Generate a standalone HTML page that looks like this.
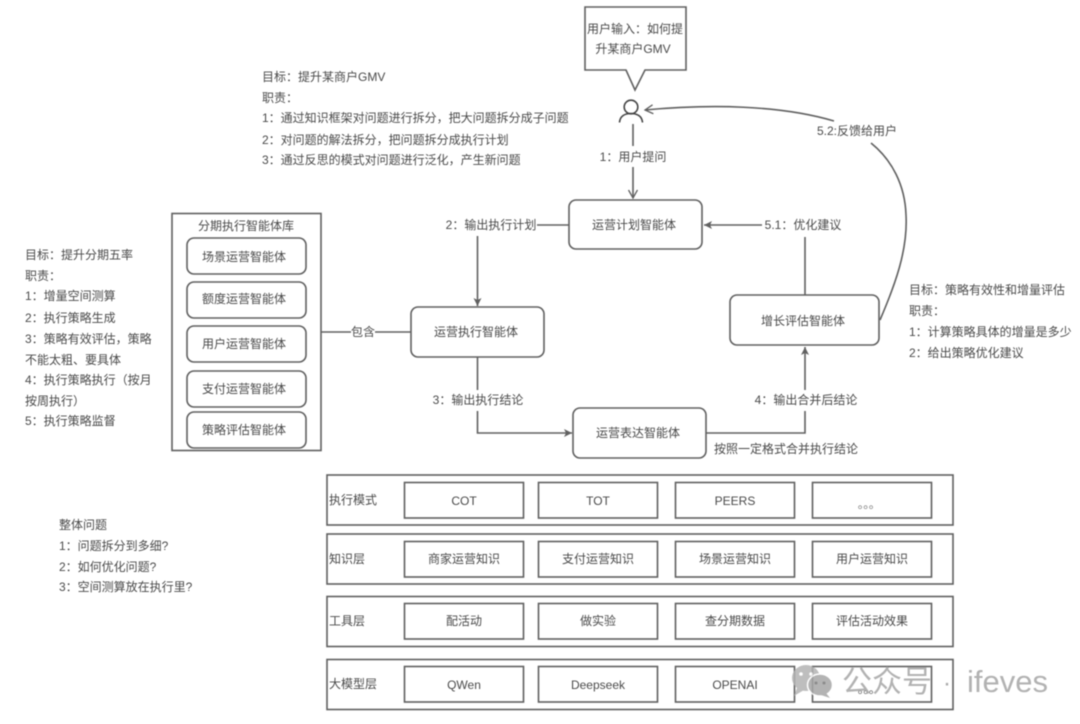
<!DOCTYPE html>
<html><head><meta charset="utf-8"><style>
html,body{margin:0;padding:0;background:#fff;width:1080px;height:724px;overflow:hidden}
svg{display:block;filter:blur(.45px)}
text{font-family:"Liberation Sans","Noto Sans CJK SC",sans-serif;font-size:12px;fill:#4a4a4a}
.m{text-anchor:middle}
.b{fill:#fff;stroke:#606060;stroke-width:1.6}
.l{fill:none;stroke:#606060;stroke-width:1.6}
</style></head><body>
<svg width="1080" height="724" viewBox="0 0 1080 724" xmlns="http://www.w3.org/2000/svg">
<defs>
<marker id="a" markerWidth="10" markerHeight="10" refX="8" refY="4" orient="auto" markerUnits="userSpaceOnUse"><path d="M0 0L8 4L0 8L2 4Z" fill="#606060"/></marker>
<marker id="o" markerWidth="10" markerHeight="12" refX="9" refY="5" orient="auto" markerUnits="userSpaceOnUse"><path d="M1 0.5L9 5L1 9.5" fill="none" stroke="#606060" stroke-width="1.3"/></marker>
</defs>

<!-- callout -->
<path class="b" d="M585 7H686V70H645L635 90L626 70H585Z"/>
<text class="m" x="635" y="33">用户输入：如何提</text>
<text class="m" x="633" y="53">升某商户GMV</text>

<!-- user -->
<circle cx="631" cy="107" r="6.8" fill="none" stroke="#444" stroke-width="1.6"/>
<path d="M619.5 122.5C620 116 625 113.5 631 113.5C637 113.5 642 116 642.5 122.5" fill="none" stroke="#444" stroke-width="1.6"/>

<!-- notes -->
<text x="262" y="81">目标：提升某商户GMV</text>
<text x="262" y="102">职责：</text>
<text x="262" y="122">1：通过知识框架对问题进行拆分，把大问题拆分成子问题</text>
<text x="262" y="144">2：对问题的解法拆分，把问题拆分成执行计划</text>
<text x="262" y="164">3：通过反思的模式对问题进行泛化，产生新问题</text>

<text x="25" y="259">目标：提升分期五率</text>
<text x="25" y="280">职责：</text>
<text x="25" y="300">1：增量空间测算</text>
<text x="25" y="322">2：执行策略生成</text>
<text x="25" y="343">3：策略有效评估，策略</text>
<text x="25" y="364">不能太粗、要具体</text>
<text x="25" y="384">4：执行策略执行（按月</text>
<text x="25" y="405">按周执行）</text>
<text x="25" y="425">5：执行策略监督</text>

<text x="909" y="294">目标：策略有效性和增量评估</text>
<text x="909" y="315">职责：</text>
<text x="909" y="336">1：计算策略具体的增量是多少</text>
<text x="909" y="357">2：给出策略优化建议</text>

<text x="59" y="529">整体问题</text>
<text x="59" y="550">1：问题拆分到多细?</text>
<text x="59" y="571">2：如何优化问题?</text>
<text x="59" y="591">3：空间测算放在执行里?</text>

<!-- connectors -->
<path class="l" d="M633 124V146"/>
<path class="l" d="M633 167V198" marker-end="url(#o)"/>
<text class="m" x="633" y="161">1：用户提问</text>

<path class="l" d="M537 225H569"/>
<path class="l" d="M477.5 236V306" marker-end="url(#a)"/>
<text class="m" x="491" y="229">2：输出执行计划</text>

<path class="l" d="M321 332H351M375 332H411"/>
<text class="m" x="363" y="336">包含</text>

<path class="l" d="M477.5 357V390"/>
<path class="l" d="M477.5 411V433H572" marker-end="url(#a)"/>
<text class="m" x="478" y="404">3：输出执行结论</text>

<path class="l" d="M706 433H805V411"/>
<path class="l" d="M805 390V347" marker-end="url(#a)"/>
<text class="m" x="806" y="404">4：输出合并后结论</text>
<text x="714" y="453">按照一定格式合并执行结论</text>

<path class="l" d="M805 295V237"/>
<path class="l" d="M762 225H704" marker-end="url(#a)"/>
<text class="m" x="803" y="229">5.1：优化建议</text>

<path class="l" d="M880 320C895 285 908 250 906 215C905 185 892 160 871 143"/>
<path class="l" d="M834 121C780 105 710 104 645 110" marker-end="url(#o)"/>
<text class="m" x="857" y="135">5.2:反馈给用户</text>

<!-- agents -->
<rect class="b" x="569" y="200" width="133" height="49" rx="7"/>
<text class="m" x="634" y="229">运营计划智能体</text>
<rect class="b" x="411" y="307" width="133" height="50" rx="7"/>
<text class="m" x="476" y="336">运营执行智能体</text>
<rect class="b" x="573" y="408" width="133" height="50" rx="7"/>
<text class="m" x="638" y="437">运营表达智能体</text>
<rect class="b" x="730" y="295" width="149" height="50" rx="7"/>
<text class="m" x="803" y="325">增长评估智能体</text>

<!-- library -->
<rect class="b" x="172" y="213.500" width="149" height="237"/>
<text class="m" x="246" y="230">分期执行智能体库</text>
<rect class="b" x="187" y="238" width="119" height="36" rx="7"/>
<text class="m" x="244" y="261">场景运营智能体</text>
<rect class="b" x="187" y="282" width="119" height="36" rx="7"/>
<text class="m" x="244" y="303">额度运营智能体</text>
<rect class="b" x="187" y="326" width="119" height="36" rx="7"/>
<text class="m" x="244" y="348">用户运营智能体</text>
<rect class="b" x="187" y="371" width="119" height="36" rx="7"/>
<text class="m" x="244" y="393">支付运营智能体</text>
<rect class="b" x="187" y="412" width="119" height="36" rx="7"/>
<text class="m" x="244" y="434">策略评估智能体</text>

<!-- layers -->
<rect class="b" x="327" y="475" width="626" height="50"/>
<text x="329" y="504">执行模式</text>
<rect class="b" x="404.500" y="482.500" width="119" height="35.500"/><text class="m" x="464" y="505">COT</text>
<rect class="b" x="538.500" y="482.500" width="119" height="35.500"/><text class="m" x="598" y="505">TOT</text>
<rect class="b" x="675.500" y="482.500" width="119" height="35.500"/><text class="m" x="735" y="505">PEERS</text>
<rect class="b" x="812.500" y="482.500" width="119" height="35.500"/><text class="m" x="869" y="508" style="letter-spacing:-.5px;fill:#777">。。。</text>

<rect class="b" x="327" y="534" width="626" height="50"/>
<text x="329" y="563">知识层</text>
<rect class="b" x="404.500" y="541.500" width="119" height="35.500"/><text class="m" x="464" y="563">商家运营知识</text>
<rect class="b" x="538.500" y="541.500" width="119" height="35.500"/><text class="m" x="598" y="563">支付运营知识</text>
<rect class="b" x="675.500" y="541.500" width="119" height="35.500"/><text class="m" x="735" y="563">场景运营知识</text>
<rect class="b" x="812.500" y="541.500" width="119" height="35.500"/><text class="m" x="872" y="563">用户运营知识</text>

<rect class="b" x="327" y="596.500" width="626" height="50"/>
<text x="329" y="625">工具层</text>
<rect class="b" x="404.500" y="603.500" width="119" height="35.500"/><text class="m" x="464" y="625">配活动</text>
<rect class="b" x="538.500" y="603.500" width="119" height="35.500"/><text class="m" x="598" y="625">做实验</text>
<rect class="b" x="675.500" y="603.500" width="119" height="35.500"/><text class="m" x="735" y="625">查分期数据</text>
<rect class="b" x="812.500" y="603.500" width="119" height="35.500"/><text class="m" x="872" y="625">评估活动效果</text>

<rect class="b" x="327" y="659.500" width="626" height="50"/>
<text x="329" y="688">大模型层</text>
<rect class="b" x="404.500" y="666.500" width="119" height="35.500"/><text class="m" x="464" y="689">QWen</text>
<rect class="b" x="538.500" y="666.500" width="119" height="35.500"/><text class="m" x="598" y="689">Deepseek</text>
<rect class="b" x="675.500" y="666.500" width="119" height="35.500"/><text class="m" x="735" y="689">OPENAI</text>
<rect class="b" x="812.500" y="666.500" width="119" height="35.500"/><text class="m" x="869" y="693" style="letter-spacing:-.5px;fill:#555">。。。</text>

<!-- watermark -->
<g opacity=".85">
<ellipse cx="806" cy="678" rx="14" ry="13" fill="#b3b3b3"/>
<path d="M797 688L794 696L804 690Z" fill="#b3b3b3"/>
<ellipse cx="820" cy="685" rx="12.500" ry="11" fill="#a6a6a6" stroke="#fff" stroke-width="1.500"/>
<path d="M826 693L830 698L821 695Z" fill="#a6a6a6"/>
<circle cx="801" cy="674" r="1.800" fill="#fff"/><circle cx="811" cy="674" r="1.800" fill="#fff"/>
<circle cx="816" cy="683" r="1.500" fill="#777"/><circle cx="824" cy="683" r="1.500" fill="#777"/>
</g>
<text x="842" y="692" style="font-size:30px;fill:#aaa;fill-opacity:.9">公众号</text>
<text x="943" y="691" style="font-size:24px;fill:#aaa">·</text>
<text x="967" y="692" style="font-size:31px;fill:#aaa;fill-opacity:.9">ifeves</text>
</svg>
</body></html>
